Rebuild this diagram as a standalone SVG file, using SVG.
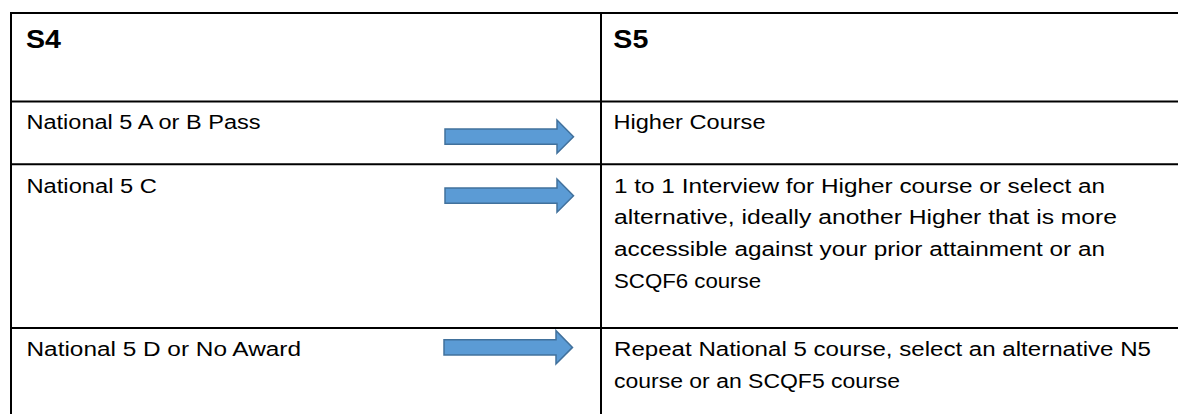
<svg xmlns="http://www.w3.org/2000/svg" width="1178" height="414" viewBox="0 0 1178 414">
  <style>
    .grid { stroke: #000; stroke-width: 2; fill: none; }
    .t { font-family: "Liberation Sans", Arial, sans-serif; font-size: 20px; fill: #000; }
    .h { font-family: "Liberation Sans", Arial, sans-serif; font-size: 26.5px; font-weight: bold; fill: #000; }
    .arrow { fill: #5B9BD5; stroke: #41719C; stroke-width: 1.5; stroke-linejoin: miter; }
  </style>
  <defs>
    <path id="blockArrow" d="M0,9 H112 V0 L128.5,16.7 L112,33.3 V24.3 H0 Z"/>
  </defs>
  <rect x="0" y="0" width="1178" height="414" fill="#fff"/>
  <g id="table-grid">
    <line class="grid" x1="10" y1="13" x2="1178" y2="13"/>
    <line class="grid" x1="10" y1="101.5" x2="1178" y2="101.5"/>
    <line class="grid" x1="10" y1="164.3" x2="1178" y2="164.3"/>
    <line class="grid" x1="10" y1="328" x2="1178" y2="328"/>
    <line class="grid" x1="11" y1="12" x2="11" y2="414"/>
    <line class="grid" x1="601" y1="12" x2="601" y2="414"/>
  </g>
  <g id="header-s4">
    <text class="h" x="26" y="48.3" textLength="35" lengthAdjust="spacingAndGlyphs">S4</text>
  </g>
  <g id="header-s5">
    <text class="h" x="613.3" y="48.3" textLength="35" lengthAdjust="spacingAndGlyphs">S5</text>
  </g>
  <g id="s4-ab">
    <text class="t" x="26.5" y="129" textLength="234" lengthAdjust="spacingAndGlyphs">National 5 A or B Pass</text>
  </g>
  <g id="s5-higher">
    <text class="t" x="613.5" y="129" textLength="152" lengthAdjust="spacingAndGlyphs">Higher Course</text>
  </g>
  <g id="s4-c">
    <text class="t" x="26.5" y="192.7" textLength="130.4" lengthAdjust="spacingAndGlyphs">National 5 C</text>
  </g>
  <g id="s5-interview">
    <text class="t" x="614" y="192.7" textLength="491" lengthAdjust="spacingAndGlyphs">1 to 1 Interview for Higher course or select an</text>
    <text class="t" x="614" y="224.3" textLength="503" lengthAdjust="spacingAndGlyphs">alternative, ideally another Higher that is more</text>
    <text class="t" x="614" y="256" textLength="491" lengthAdjust="spacingAndGlyphs">accessible against your prior attainment or an</text>
    <text class="t" x="614" y="287.7" textLength="147" lengthAdjust="spacingAndGlyphs">SCQF6 course</text>
  </g>
  <g id="s4-d">
    <text class="t" x="26.5" y="356" textLength="274.5" lengthAdjust="spacingAndGlyphs">National 5 D or No Award</text>
  </g>
  <g id="s5-repeat">
    <text class="t" x="614" y="356" textLength="537" lengthAdjust="spacingAndGlyphs">Repeat National 5 course, select an alternative N5</text>
    <text class="t" x="614" y="387.7" textLength="286" lengthAdjust="spacingAndGlyphs">course or an SCQF5 course</text>
  </g>
  <g id="connectors">
    <use href="#blockArrow" class="arrow" transform="translate(445,120)"/>
    <use href="#blockArrow" class="arrow" transform="translate(445,179)"/>
    <use href="#blockArrow" class="arrow" transform="translate(444,330.7)"/>
  </g>
</svg>
